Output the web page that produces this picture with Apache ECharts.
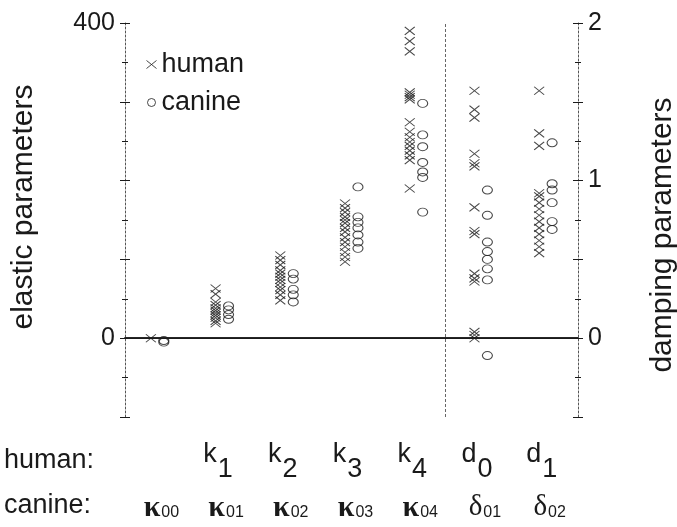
<!DOCTYPE html>
<html>
<head>
<meta charset="utf-8">
<script src="https://cdn.jsdelivr.net/npm/echarts@6/dist/echarts.min.js"></script>
<style>
  html, body { margin: 0; padding: 0; background: #fff; }
  #chart { width: 677px; height: 527px; }
</style>
</head>
<body>
<div id="chart"></div>
<script>
// parameter groups along x (index 1..7)
const groups = ["k00", "k01", "k02", "k03", "k04", "d01", "d02"];
const humanLetters = ["", "k", "k", "k", "k", "d", "d"];
const humanSubs = ["", "1", "2", "3", "4", "0", "1"];
const canineLetters = ["κ", "κ", "κ", "κ", "κ", "δ", "δ"];
const canineSubs = ["00", "01", "02", "03", "04", "01", "02"];

// elastic parameters (left axis), groups 1..5
const humanElastic = [
  [0],
  [63, 56, 46, 42, 38, 35, 32, 29, 26, 22, 19],
  [105, 99, 93, 86, 82, 78, 74, 70, 65, 61, 55, 48],
  [171, 165, 160, 154, 150, 146, 140, 135, 128, 122, 116, 109, 103, 97],
  [390, 377, 364, 312, 309, 306, 303, 274, 262, 255, 249, 244, 238, 232, 226, 190]
];
const canineElastic = [
  [-3, -5],
  [41, 36, 30, 24],
  [82, 75, 62, 55, 46],
  [192, 154, 147, 140, 131, 122, 114],
  [298, 258, 243, 223, 211, 204, 160]
];
// damping parameters (right axis), groups 6..7
const humanDamping = [
  [1.57, 1.45, 1.40, 1.17, 1.11, 1.09, 0.83, 0.68, 0.66, 0.41, 0.38, 0.36, 0.04, 0.02, 0.00],
  [1.57, 1.30, 1.22, 0.92, 0.90, 0.86, 0.82, 0.78, 0.74, 0.70, 0.66, 0.62, 0.58, 0.54]
];
const canineDamping = [
  [0.94, 0.78, 0.61, 0.55, 0.50, 0.44, 0.37, -0.11],
  [1.24, 0.98, 0.94, 0.86, 0.74, 0.69]
];
const leftTicks = [0, 400];
const rightTicks = [0, 1, 2];

const ink = "#1a1a1a";
const font = "'Liberation Sans', Arial, sans-serif";
const crossPath = "path://M0,0L10,8M10,0L0,8";

function points(lists, firstGroup, shift) {
  const out = [];
  lists.forEach((vals, i) => {
    vals.forEach(v => out.push([firstGroup + i + shift, v]));
  });
  return out;
}

const crossStyle = { color: "transparent", borderColor: ink, borderWidth: 1 };
const ringStyle = { color: "transparent", borderColor: ink, borderWidth: 1 };

function yAxisBase(pos, min, max, interval, labels, inside) {
  return {
    type: "value",
    position: pos,
    min: min,
    max: max,
    interval: interval,
    splitLine: { show: false },
    axisLine: inside ? { show: false } : { show: true, lineStyle: { color: "#555", width: 1, type: [2, 2] } },
    axisTick: { show: true, inside: inside, length: 5, lineStyle: { color: ink } },
    minorTick: { show: true, splitNumber: 2, length: 3, lineStyle: { color: ink } },
    axisLabel: {
      show: !inside,
      margin: 10,
      fontSize: 25,
      color: ink,
      fontFamily: font,
      formatter: v => (labels.indexOf(v) >= 0 ? String(v) : "")
    }
  };
}

const chart = echarts.init(document.getElementById("chart"));
const left = yAxisBase("left", -100, 400, 100, leftTicks, false);
left.name = "elastic parameters";
left.nameLocation = "middle";
left.nameRotate = 90;
left.nameGap = 86;
left.nameTextStyle = { fontSize: 30, color: ink, fontFamily: font, padding: [0, 0, 0, 26] };
const right = yAxisBase("right", -0.5, 2, 0.5, rightTicks, false);
right.name = "damping parameters";
right.nameLocation = "middle";
right.nameRotate = 90;
right.nameGap = 70;
right.nameTextStyle = { fontSize: 30, color: ink, fontFamily: font, padding: [0, 30, 0, 0] };

const frameAxis = pos => ({
  type: "value",
  position: pos,
  min: 0.5,
  max: 7.5,
  axisLine: { show: true, lineStyle: { color: ink, width: 1.5 } },
  axisTick: { show: false },
  axisLabel: { show: false },
  splitLine: { show: false }
});

chart.setOption({
  animation: false,
  backgroundColor: "#fff",
  grid: { left: 125, right: 99, top: 23, bottom: 110, outerBoundsMode: "none" },
  legend: {
    orient: "vertical",
    left: 141,
    top: 46,
    itemGap: 11,
    itemWidth: 10,
    itemHeight: 8,
    textStyle: { fontSize: 27, color: ink, fontFamily: font },
    data: [
      { name: "human", icon: crossPath, itemStyle: crossStyle },
      { name: "canine", icon: "circle", itemStyle: ringStyle }
    ]
  },
  graphic: [
    { type: "text", left: 4, top: 447, style: { text: "human:", fontSize: 27, fill: ink, fontFamily: font } },
    { type: "text", left: 4, top: 492, style: { text: "canine:", fontSize: 27, fill: ink, fontFamily: font } }
  ],
  xAxis: [
    {
      type: "category",
      data: groups,
      position: "bottom",
      axisLine: { show: false },
      axisTick: { show: false },
      axisLabel: {
        margin: 24,
        interval: 0,
        formatter: (v, i) => humanLetters[i] ? "{k|" + humanLetters[i] + "}{s|" + humanSubs[i] + "}" : "{k| }",
        rich: {
          k: { fontSize: 27, fontFamily: font, color: ink, lineHeight: 30, verticalAlign: "top" },
          s: { fontSize: 27, fontFamily: font, color: ink, lineHeight: 30, verticalAlign: "top", padding: [15, 8, 0, 1] }
        }
      }
    },
    {
      type: "category",
      data: groups,
      position: "bottom",
      axisLine: { show: false },
      axisTick: { show: false },
      axisLabel: {
        margin: 76,
        interval: 0,
        formatter: (v, i) => "{" + (canineLetters[i] === "κ" ? "g" : "d") + "|" + canineLetters[i] + "}{b|" + canineSubs[i] + "}",
        rich: {
          g: { fontSize: 30, fontFamily: "'Liberation Serif', serif", fontWeight: "bold", color: ink, lineHeight: 30, verticalAlign: "top", padding: [0, 0, 0, 8] },
          d: { fontSize: 29, fontFamily: "'Liberation Serif', serif", color: ink, lineHeight: 30, verticalAlign: "top", padding: [0, 0, 0, 8] },
          b: { fontSize: 16, fontFamily: font, color: ink, lineHeight: 18, verticalAlign: "top", padding: [12, 0, 0, 1] }
        }
      }
    },
    frameAxis("bottom"),
    frameAxis("top")
  ],
  yAxis: [
    left,
    right,
    yAxisBase("left", -100, 400, 100, leftTicks, true),
    yAxisBase("right", -0.5, 2, 0.5, rightTicks, true)
  ],
  series: [
    {
      name: "human",
      type: "scatter",
      xAxisIndex: 2,
      yAxisIndex: 0,
      symbol: crossPath,
      symbolSize: [10, 8],
      itemStyle: crossStyle,
      data: points(humanElastic, 1, -0.1),
      markLine: {
        silent: true,
        symbol: "none",
        label: { show: false },
        data: [
          { yAxis: 0, lineStyle: { color: ink, width: 1.2, type: "solid" } },
          { xAxis: 5.445, lineStyle: { color: "#666", width: 1, type: [3, 2] } }
        ]
      }
    },
    {
      name: "canine",
      type: "scatter",
      xAxisIndex: 2,
      yAxisIndex: 0,
      symbol: "circle",
      symbolSize: [10, 8],
      itemStyle: ringStyle,
      data: points(canineElastic, 1, 0.1)
    },
    {
      name: "human",
      type: "scatter",
      xAxisIndex: 2,
      yAxisIndex: 1,
      symbol: crossPath,
      symbolSize: [10, 8],
      itemStyle: crossStyle,
      data: points(humanDamping, 6, -0.1)
    },
    {
      name: "canine",
      type: "scatter",
      xAxisIndex: 2,
      yAxisIndex: 1,
      symbol: "circle",
      symbolSize: [10, 8],
      itemStyle: ringStyle,
      data: points(canineDamping, 6, 0.1)
    }
  ]
});
</script>
</body>
</html>
